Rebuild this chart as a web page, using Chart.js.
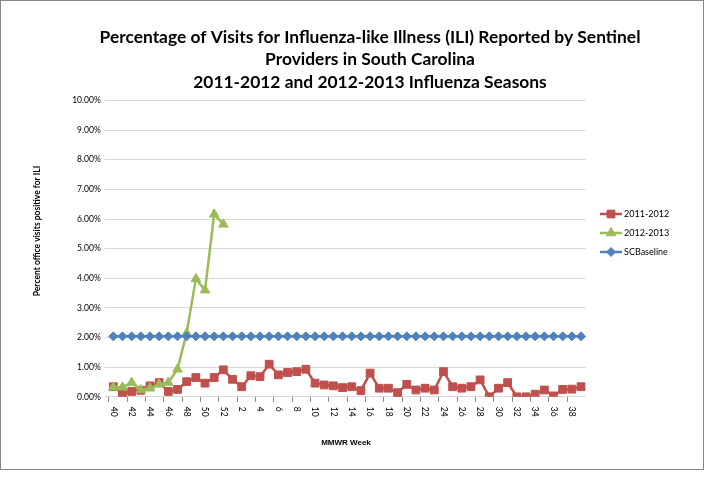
<!DOCTYPE html>
<html>
<head>
<meta charset="utf-8">
<script src="https://cdn.jsdelivr.net/npm/chart.js@4.4.0/dist/chart.umd.min.js"></script>
<style>
  html, body { margin: 0; padding: 0; background: #fff; }
</style>
</head>
<body>
<canvas id="myChart" width="705" height="480"></canvas>
<script>
'use strict';
let weeks = ['40', '41', '42', '43', '44', '45', '46', '47', '48', '49', '50', '51', '52',
    '1', '2', '3', '4', '5', '6', '7', '8', '9', '10', '11', '12', '13', '14', '15', '16', '17', '18', '19', '20',
    '21', '22', '23', '24', '25', '26', '27', '28', '29', '30', '31', '32', '33', '34', '35', '36', '37', '38', '39']

let season1112 = [0.34, 0.12, 0.18, 0.22, 0.37, 0.48, 0.18, 0.25, 0.51, 0.65, 0.46, 0.65, 0.91,
    0.59, 0.34, 0.71, 0.68, 1.10, 0.74, 0.82, 0.85, 0.93, 0.46, 0.40, 0.37, 0.31, 0.34, 0.21, 0.80, 0.29,
    0.29, 0.14, 0.42, 0.23, 0.29, 0.23, 0.85, 0.34, 0.29, 0.34, 0.57, 0.00, 0.29, 0.48, 0.00, 0.00, 0.09,
    0.23, 0.03, 0.25, 0.26, 0.34]

let season1213 = [0.32, 0.32, 0.48, 0.23, 0.29, 0.42, 0.48, 0.93, 2.15, 3.98, 3.60, 6.16, 5.82]

let scBaseline = [2.04, 2.04, 2.04, 2.04, 2.04, 2.04, 2.04, 2.04, 2.04, 2.04, 2.04, 2.04, 2.04,
    2.04, 2.04, 2.04, 2.04, 2.04, 2.04, 2.04, 2.04, 2.04, 2.04, 2.04, 2.04, 2.04, 2.04, 2.04, 2.04, 2.04,
    2.04, 2.04, 2.04, 2.04, 2.04, 2.04, 2.04, 2.04, 2.04, 2.04, 2.04, 2.04, 2.04, 2.04, 2.04, 2.04, 2.04,
    2.04, 2.04, 2.04, 2.04, 2.04]

let titleLines = ['Percentage of Visits for Influenza-like Illness (ILI) Reported by Sentinel',
    'Providers in South Carolina',
    '2011-2012 and 2012-2013 Influenza Seasons']
let yTitle = 'Percent office visits positive for ILI'
let xTitle = 'MMWR Week'

// titles, legend and the rotated week labels are painted here
let extras = {
    id: 'extras',
    afterDraw(chart) {
        let ctx = chart.ctx
        let area = chart.chartArea
        let xScale = chart.scales.x
        ctx.save()

        ctx.strokeStyle = '#868686'
        ctx.lineWidth = 1
        ctx.strokeRect(0.5, 0.5, 703, 469)

        ctx.fillStyle = '#000'
        ctx.font = 'bold 17.4px Lato'
        ctx.textAlign = 'center'
        ctx.textBaseline = 'middle'
        for (let i = 0; i < titleLines.length; i++) {
            ctx.fillText(titleLines[i], 370, 37 + i * 22.5)
        }

        ctx.font = '8.5px Lato'
        ctx.textAlign = 'left'
        for (let i = 0; i < weeks.length; i += 2) {
            let x = xScale.getPixelForTick(i)
            ctx.save()
            ctx.translate(x, area.bottom + 10)
            ctx.rotate(Math.PI / 2)
            ctx.fillText(weeks[i], 0, 0)
            ctx.restore()
        }

        ctx.font = 'bold 8px "Liberation Sans"'
        ctx.textAlign = 'center'
        ctx.fillText(xTitle, 346, 443)

        ctx.save()
        ctx.translate(37, 231)
        ctx.rotate(-Math.PI / 2)
        ctx.font = 'bold 8.5px Lato'
        ctx.fillText(yTitle, 0, 0)
        ctx.restore()

        // legend
        let ys = [214, 233, 252]
        ctx.font = '9px Lato'
        ctx.textAlign = 'left'
        chart.data.datasets.forEach(function (ds, i) {
            ctx.strokeStyle = ds.borderColor
            ctx.fillStyle = ds.backgroundColor
            ctx.lineWidth = 2.5
            ctx.beginPath()
            ctx.moveTo(600, ys[i])
            ctx.lineTo(622, ys[i])
            ctx.stroke()
            ctx.lineWidth = 1
            Chart.helpers.drawPoint(ctx, { pointStyle: ds.pointStyle, radius: ds.pointRadius, rotation: 0, borderWidth: 1 }, 611, ys[i])
            ctx.fillStyle = '#000'
            ctx.fillText(ds.label, 624, ys[i] + 0.5)
        })
        ctx.restore()
    }
}

let ctx = document.getElementById('myChart').getContext('2d')
let myChart = new Chart(ctx, {
    type: 'line',
    data: {
        labels: weeks,
        datasets: [{
            label: '2011-2012',
            data: season1112,
            borderColor: '#C0504D',
            backgroundColor: '#C0504D',
            pointStyle: 'rect',
            pointRadius: 5.5,
            pointBorderWidth: 1,
            borderWidth: 2.5,
            order: 2
        }, {
            label: '2012-2013',
            data: season1213,
            borderColor: '#9BBB59',
            backgroundColor: '#9BBB59',
            pointStyle: 'triangle',
            pointRadius: 5.5,
            pointBorderWidth: 1,
            borderWidth: 2.5,
            order: 1
        }, {
            label: 'SCBaseline',
            data: scBaseline,
            borderColor: '#4F81BD',
            backgroundColor: '#4F81BD',
            pointStyle: 'rectRot',
            pointRadius: 4.5,
            pointBorderWidth: 1,
            borderWidth: 2.5,
            order: 0
        }]
    },
    options: {
        responsive: false,
        animation: false,
        devicePixelRatio: 1,
        layout: { padding: { top: 100.5, right: 119.4, bottom: 0, left: 0 } },
        plugins: {
            legend: { display: false },
            tooltip: { enabled: false }
        },
        scales: {
            x: {
                offset: true,
                grid: {
                    offset: true,
                    drawOnChartArea: false,
                    tickLength: 5,
                    color: function (c) { return c.index % 2 === 0 ? '#868686' : 'rgba(0,0,0,0)' }
                },
                border: { display: false },
                ticks: { color: 'rgba(0,0,0,0)', autoSkip: false, maxRotation: 0, font: { size: 8 } },
                afterFit: function (scale) { scale.height = 83.2 }
            },
            y: {
                min: 0,
                max: 10,
                ticks: {
                    stepSize: 1,
                    padding: 4,
                    color: '#000',
                    font: { family: 'Lato', size: 8.5 },
                    callback: function (v) { return v.toFixed(2) + '%' }
                },
                grid: { color: '#d9d9d9', tickLength: 4 },
                border: { display: false },
                afterFit: function (scale) { scale.width = 108.7 }
            }
        }
    },
    plugins: [extras]
});
</script>
</body>
</html>
